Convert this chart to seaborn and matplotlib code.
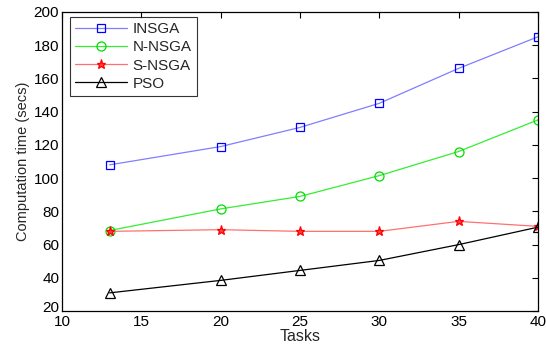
import matplotlib
matplotlib.use("Agg")
import matplotlib.pyplot as plt
import matplotlib.transforms as mtransforms
import seaborn as sns
import pandas as pd

tasks = [13, 20, 25, 30, 35, 40]
insga = [108, 119, 130.5, 145, 166, 185]
n_nsga = [68.5, 81.5, 89, 101.5, 116, 135]
s_nsga = [68, 69, 68, 68, 74, 71]
pso = [31, 38.5, 44.5, 50.5, 60, 70.5]

series_names = ["INSGA", "N-NSGA", "S-NSGA", "PSO"]
series_values = [insga, n_nsga, s_nsga, pso]

rows = []
for name, vals in zip(series_names, series_values):
    for t, v in zip(tasks, vals):
        rows.append({"Tasks": t, "time": v, "method": name})
df = pd.DataFrame(rows)

sns.set_style("white")
plt.rcParams["font.family"] = ["Liberation Sans", "DejaVu Sans"]

fig = plt.figure(figsize=(5.46, 3.5), dpi=100)
ax = fig.add_axes([0.1136, 0.111, 0.8714, 0.855])

styles = {
    "INSGA": dict(line="#7f7fff", mk="#0000ff", marker="s", ms=6, mfc="none"),
    "N-NSGA": dict(line="#33ee33", mk="#00dd00", marker="o", ms=6.5, mfc="none"),
    "S-NSGA": dict(line="#ff7070", mk="#ff0000", marker="*", ms=6.5, mfc="#ff4040"),
    "PSO": dict(line="#000000", mk="#000000", marker="^", ms=7.5, mfc="none"),
}

for name in series_names:
    st = styles[name]
    sub = df[df["method"] == name]
    sns.lineplot(data=sub, x="Tasks", y="time", ax=ax, color=st["line"],
                 linewidth=0.9, marker=st["marker"], markersize=st["ms"],
                 markerfacecolor=st["mfc"], markeredgecolor=st["mk"],
                 markeredgewidth=0.9, label=name)

ax.set_xlim(10, 40)
ax.set_ylim(20, 200)
ax.set_xticks([10, 15, 20, 25, 30, 35, 40])
ax.set_yticks(range(20, 201, 20))
ax.tick_params(direction="in", top=True, right=True, length=4, width=0.8,
               labelsize=11, colors="black")
ax.tick_params(axis="x", pad=3)
ax.tick_params(axis="y", pad=2)
for sp in ax.spines.values():
    sp.set_visible(True)
    sp.set_color("black")
    sp.set_linewidth(0.9)
ax.set_xlabel("Tasks", fontsize=11.5, labelpad=0)
ax.set_ylabel("Computation time (secs)", fontsize=10.5, labelpad=3)

# lift the lowest y label a little so it clears the first x label in the corner
fig.canvas.draw()
lowest = ax.get_yticklabels()[0]
lowest.set_transform(lowest.get_transform() +
                     mtransforms.ScaledTranslation(0, 3 / 72, fig.dpi_scale_trans))

leg = ax.legend(loc="upper left", bbox_to_anchor=(0.017, 0.983),
                borderaxespad=0, fontsize=11, frameon=True, fancybox=False,
                edgecolor="black", handlelength=3.4, labelspacing=0.27,
                borderpad=0.35, handletextpad=0.35)
leg.get_frame().set_linewidth(0.8)

fig.savefig("out.png", dpi=100)
